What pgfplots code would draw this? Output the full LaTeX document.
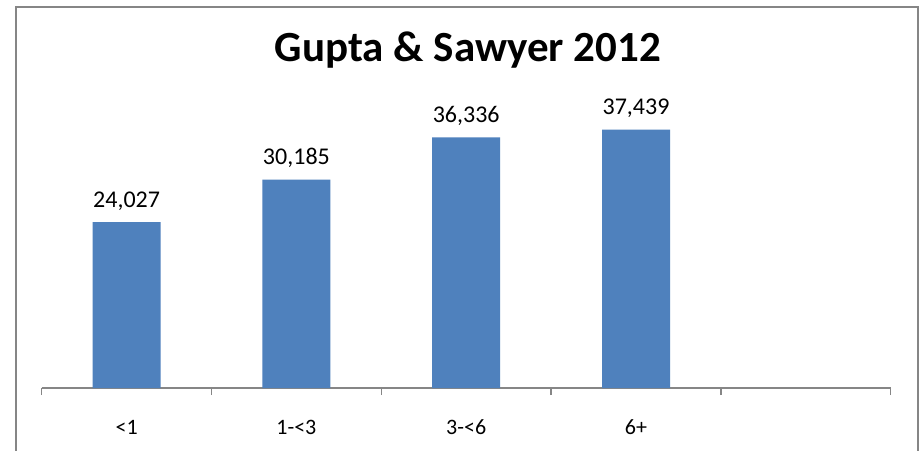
\documentclass[border=0pt]{standalone}
\usepackage{pgfplots}
\pgfplotsset{compat=1.18}
\usepackage{fontspec}
\setmainfont{Carlito}
\definecolor{barblue}{RGB}{79,129,189}
\definecolor{axgray}{RGB}{134,134,134}
\begin{document}
\begin{tikzpicture}[x=1pt,y=1pt]
\useasboundingbox (0,0) rectangle (921,450);
\fill[white] (0,0) rectangle (921,450);
\draw[axgray, line width=1.4pt] (16,443) -- (918,443) -- (918,-5) -- (16,-5) -- cycle;
\node[anchor=base, font=\fontsize{43}{48}\selectfont\bfseries] at (468,388) {Gupta \& Sawyer 2012};
\begin{axis}[
  at={(41.7pt,62pt)}, anchor=south west,
  scale only axis, width=849pt, height=276pt,
  xmin=-0.5, xmax=4.5, ymin=0, ymax=40000,
  axis y line=none,
  axis x line*=bottom,
  x axis line style={axgray, line width=1.4pt, -},
  xtick={0,1,2,3},
  xticklabels={{<1},{1-<3},{3-<6},{6+}},
  major tick length=0pt,
  extra x ticks={-0.5,0.5,1.5,2.5,3.5,4.5},
  extra x tick labels={},
  extra x tick style={major tick length=7pt, tick align=outside, tick style={axgray, line width=1.4pt}},
  xticklabel style={anchor=base, yshift=-46pt, font=\fontsize{22}{26}\selectfont},
  /pgf/number format/assume math mode=true,
  ybar, bar width=68pt,
  nodes near coords,
  nodes near coords style={anchor=base, yshift=15pt, font=\fontsize{24}{28}\selectfont, text=black,
    /pgf/number format/.cd, fixed, precision=0, 1000 sep={,}, assume math mode=true},
  clip=false,
]
\addplot[fill=barblue, draw=none] coordinates {(0,24027) (1,30185) (2,36336) (3,37439)};
\end{axis}
\end{tikzpicture}
\end{document}
